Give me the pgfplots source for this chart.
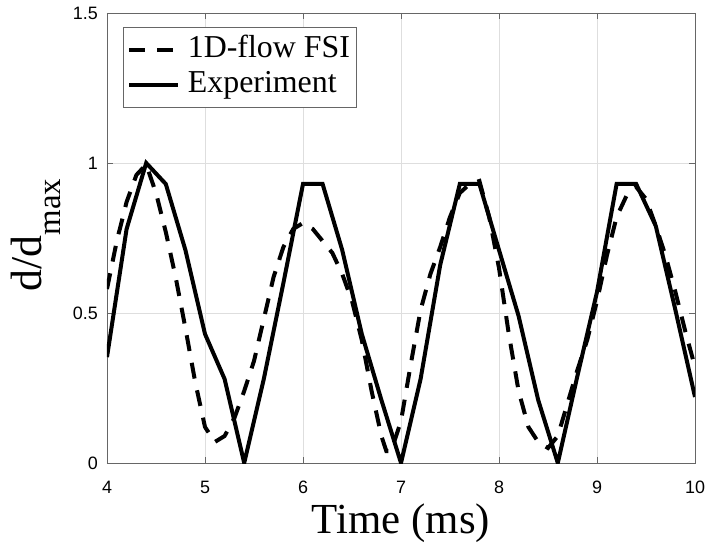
\documentclass[border=0pt]{standalone}
\usepackage{fontspec}
\setmainfont{Liberation Serif}
\newfontfamily\arial{Liberation Sans}
\usepackage{pgfplots}
\pgfplotsset{compat=1.18}
\begin{document}
\begin{tikzpicture}
\path[use as bounding box] (-107bp,-82bp) rectangle (598bp,463bp);
\begin{axis}[
  at={(0,0)}, anchor=south west,
  width=588bp, height=450bp, scale only axis,
  xmin=4, xmax=10, ymin=0, ymax=1.5,
  xtick={4,5,6,7,8,9,10}, ytick={0,0.5,1,1.5},
  grid=major,
  major grid style={draw=black!13, line width=0.6bp},
  axis line style={draw=black!60, line width=0.8bp},
  every tick/.style={draw=black!60, line width=0.8bp},
  major tick length=6bp,
  tick align=inside,
  ticklabel style={font=\arial\fontsize{18}{20}\selectfont},
  xticklabel style={anchor=north, text height=13bp, text depth=0bp, inner sep=0pt, yshift=-17bp},
  yticklabel style={anchor=east, inner sep=0pt, xshift=-9bp},
  /pgf/number format/assume math mode=true,
  xlabel={Time (ms)},
  xlabel style={font=\fontsize{43}{50}\selectfont, at={(axis description cs:0.5,0)}, anchor=base, yshift=-70bp, inner sep=0pt},
  legend style={at={(axis description cs:0,1)}, anchor=north west, xshift=16bp, yshift=-14bp,
    draw=black!60, line width=0.8bp, font=\fontsize{32}{36}\selectfont, inner xsep=4bp, inner ysep=5bp,
    row sep=0bp, column sep=5bp,
    nodes={text height=23bp, text depth=7bp, inner sep=2.5bp}},
  legend cell align=left,
  legend image code/.code={\draw[#1] (0bp,0bp) -- (49bp,0bp);},
]
\addplot[black, line width=4bp, dash pattern=on 16bp off 12bp] table {
4.0 0.58
4.1 0.74
4.2 0.87
4.3 0.96
4.4 0.995
4.5 0.9
4.6 0.77
4.7 0.62
4.8 0.45
4.9 0.27
5.0 0.12
5.1 0.07
5.2 0.09
5.3 0.15
5.4 0.24
5.5 0.34
5.6 0.48
5.7 0.62
5.8 0.72
5.9 0.78
6.0 0.80
6.1 0.78
6.2 0.74
6.3 0.70
6.4 0.63
6.5 0.54
6.6 0.41
6.7 0.24
6.8 0.09
6.85 0.04
6.9 0.04
7.0 0.14
7.1 0.33
7.2 0.51
7.3 0.63
7.4 0.72
7.5 0.82
7.6 0.90
7.7 0.93
7.8 0.94
7.9 0.82
8.0 0.65
8.1 0.43
8.2 0.24
8.3 0.12
8.4 0.07
8.5 0.05
8.6 0.09
8.7 0.20
8.8 0.31
8.9 0.41
9.0 0.54
9.1 0.69
9.2 0.82
9.3 0.89
9.4 0.92
9.5 0.88
9.6 0.79
9.7 0.69
9.8 0.57
9.9 0.44
10.0 0.32
};
\addlegendentry{1D-flow FSI}
\addplot[black, line width=4bp] table {
4.0 0.353
4.2 0.78
4.4 1.0
4.6 0.93
4.8 0.71
5.0 0.43
5.2 0.28
5.4 0.0
5.6 0.28
5.8 0.60
6.0 0.93
6.2 0.93
6.4 0.71
6.6 0.43
6.8 0.21
7.0 0.0
7.2 0.28
7.4 0.66
7.6 0.93
7.8 0.93
8.0 0.71
8.2 0.49
8.4 0.21
8.6 0.0
8.8 0.29
9.0 0.57
9.2 0.93
9.4 0.93
9.6 0.79
9.8 0.51
10.0 0.22
};
\addlegendentry{Experiment}
\end{axis}
\node[rotate=90, anchor=base, inner sep=0pt, font=\fontsize{44}{50}\selectfont] at (-65bp,228bp)
  {d/d\raisebox{-0.42em}{\fontsize{33}{36}\selectfont max}};
\end{tikzpicture}
\end{document}
